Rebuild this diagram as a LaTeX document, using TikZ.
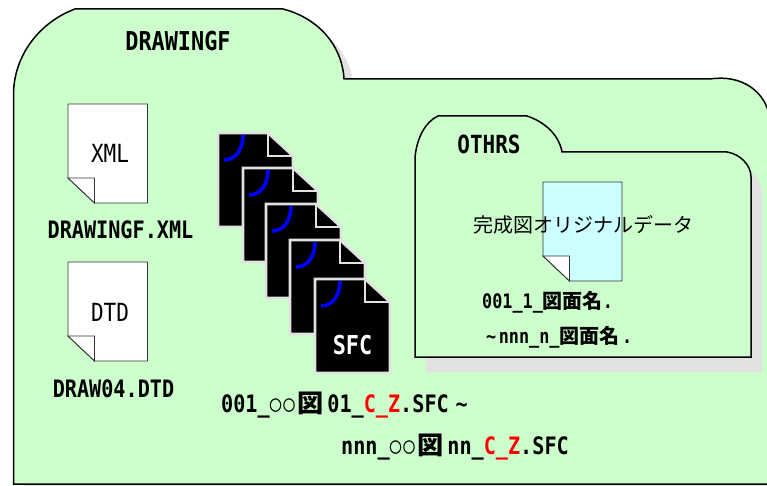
\documentclass[tikz,border=0pt]{standalone}
\usepackage{fontspec}
\usepackage{graphicx}
\usepackage{xcolor}
\usepackage{tikz}

\newfontfamily\gothicfont{DejaVu Sans Mono}
\newfontfamily\cjk{Noto Sans CJK JP}
\newcommand{\gothic}[2]{\scalebox{.84}[1]{\fontsize{#1}{#1}\selectfont\gothicfont #2}}
\newcommand{\kan}[1]{\scalebox{1.19}[1]{\cjk\bfseries #1}}
\newcommand{\zukan}{\scalebox{1.3}[1.05]{\cjk\bfseries 図}}
\newcommand{\maru}{\raisebox{.5pt}{\scalebox{.95}{\mdseries ○}}\hspace{2.5pt}}
\newcommand{\outerfolder}{(13.5,484) -- (13.5,95) .. controls (13.5,55) and (40,22) .. (75,9) -- (283,9) .. controls (318,18) and (342,45) .. (344,79) -- (710,79) .. controls (742,74) and (767,92) .. (770,120) -- (770,484) -- cycle}
\newcommand{\innerfolder}{(415,357) -- (415,157) .. controls (417,138) and (425,122) .. (438,116) -- (527,116) .. controls (545,122) and (559,135) .. (562,152) -- (727,152) .. controls (740,154) and (751,165) .. (751,177) -- (751,357) -- cycle}
\newcommand{\paperdoc}[5]{
	\draw[docline,fill=#5] (#1,#2) -- (#3,#2) -- (#3,#4) -- ({#1+26.5},#4) -- (#1,{#4-25}) -- cycle;
	\draw[docline,fill=white] (#1,{#4-25}) -- ({#1+26.5},{#4-25}) -- ({#1+26.5},#4) -- cycle;
}

\definecolor{foldergreen}{HTML}{CCFFCC}
\definecolor{shadowgray}{HTML}{E2E2E2}
\definecolor{paleblue}{HTML}{CCFFFF}

\tikzset{
	folderline/.style={draw=black,line width=1.5pt,fill=foldergreen},
	docline/.style={draw=black!80,line width=.9pt},
	sfcline/.style={draw=shadowgray,line width=2.6pt},
	title/.style={inner sep=0pt,font=\bfseries},
}

\begin{document}
\begin{tikzpicture}[x=1pt,y=-1pt]
	\useasboundingbox (0,0) rectangle (767,486);
	\fill[shadowgray,shift={(10,10)}] \outerfolder;
	\draw[folderline] \outerfolder;
	\fill[shadowgray,shift={(11,15)}] \innerfolder;
	\draw[folderline] \innerfolder;

	\paperdoc{68}{104}{147.5}{203}{white}
	\paperdoc{68}{262}{147.5}{361}{white}
	\paperdoc{543}{182}{622}{281}{paleblue}

	\foreach \x/\y in {218/133,243/168,266/204,290/240,315/279}{
		\begin{scope}[shift={(\x,\y)}]
			\draw[sfcline,fill=black] (0,0) -- (50,0) -- (75,23) -- (75,94) -- (0,94) -- cycle;
			\draw[sfcline] (50,0) -- (50,23) -- (75,23);
			\draw[blue,line width=3.6pt] (25,2) .. controls (25,16) and (18,27) .. (6,27);
		\end{scope}
	}

	\node[title] (drawingf) at (178,41) {\gothic{26}{DRAWINGF}};
	\node[inner sep=0pt] (xmlmark) at (110,153) {\gothic{25}{XML}};
	\node[title] (xmlname) at (120.5,230) {\gothic{24}{DRAWINGF.XML}};
	\node[inner sep=0pt] (dtdmark) at (110,312) {\gothic{25}{DTD}};
	\node[title] (dtdname) at (113.5,389) {\gothic{24}{DRAW04.DTD}};
	\node[inner sep=0pt,text=white,font=\bfseries] (sfcmark) at (352.5,345) {\gothic{26}{SFC}};
	\node[title] (othrs) at (489,144) {\gothic{25}{OTHRS}};
	\node[inner sep=0pt] (original) at (583,225) {\fontsize{20}{20}\selectfont\cjk 完成図オリジナルデータ};
	\node[title,anchor=west] (firstname) at (482,302) {\gothic{20}{001\_1\_\kan{図面名}.}};
	\node[title,anchor=west] (lastname) at (486,337) {\gothic{20}{\textasciitilde\hspace{3pt}nnn\_n\_\kan{図面名}\hspace{3pt}.}};
	\node[title,anchor=west] (firstsfc) at (221,405) {\gothic{24}{001\_\maru\maru\zukan\hspace{5pt}01\_\textcolor{red}{C\_Z}.SFC\hspace{8pt}\textasciitilde}};
	\node[title,anchor=west] (lastsfc) at (341,447) {\gothic{24}{nnn\_\maru\maru\zukan\hspace{5pt}nn\_\textcolor{red}{C\_Z}.SFC}};
\end{tikzpicture}
\end{document}
